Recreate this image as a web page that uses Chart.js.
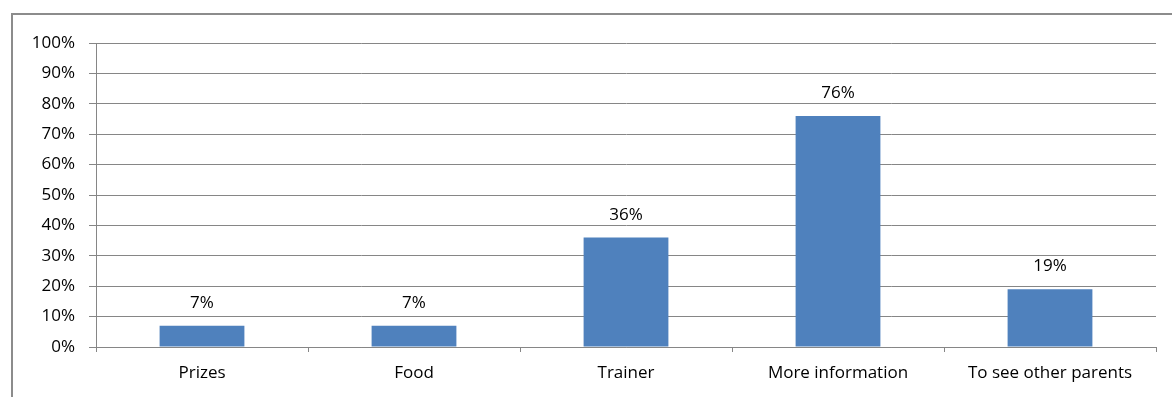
<!DOCTYPE html>
<html>
<head>
<meta charset="utf-8">
<script src="https://cdn.jsdelivr.net/npm/chart.js@4"></script>
<style>
  html, body { margin:0; padding:0; background:#fff; }
  #wrap { position:relative; width:1172px; height:397px; }
  #frame { position:absolute; left:11px; top:13px; width:1170px; height:400px;
           border-left:2px solid #8c8c8c; border-top:2px solid #8c8c8c; box-sizing:border-box; }
  canvas { position:absolute; left:0; top:0; }
</style>
</head>
<body>
<div id="wrap">
  <div id="frame"></div>
  <canvas id="myChart" width="1172" height="397"></canvas>
</div>
<script>
const categories = ['Prizes', 'Food', 'Trainer', 'More information', 'To see other parents']
const values = [7, 7, 36, 76, 19]
const yTicks = [0, 10, 20, 30, 40, 50, 60, 70, 80, 90, 100]
const fontFamily = '"Open Sans", Lato, sans-serif'

// value labels above bars
const barLabels = {
    id: 'barLabels',
    afterDatasetsDraw(chart) {
        const ctx = chart.ctx
        const meta = chart.getDatasetMeta(0)
        ctx.save()
        ctx.font = '17px ' + fontFamily
        ctx.fillStyle = '#000'
        ctx.textAlign = 'center'
        ctx.textBaseline = 'alphabetic'
        meta.data.forEach((bar, i) => {
            ctx.fillText(values[i] + '%', bar.x, bar.y - 18)
        })
        ctx.restore()
    }
}

var ctx = document.getElementById('myChart').getContext('2d')
var myChart = new Chart(ctx, {
    type: 'bar',
    data: {
        labels: categories,
        datasets: [{
            data: values,
            backgroundColor: '#4F81BD',
            borderWidth: 0,
            barPercentage: 0.4,
            categoryPercentage: 1
        }]
    },
    options: {
        responsive: false,
        animation: false,
        layout: { padding: { top: 43, right: 16, left: 0, bottom: 0 } },
        plugins: { legend: { display: false }, tooltip: { enabled: false } },
        scales: {
            y: {
                min: 0,
                max: 100,
                afterBuildTicks: (axis) => { axis.ticks = yTicks.map(v => ({ value: v })) },
                afterFit: (axis) => { axis.width = 96 },
                grid: { color: '#868686', lineWidth: 1, tickLength: 7 },
                border: { color: '#868686', width: 1 },
                ticks: {
                    callback: (v) => v + '%',
                    color: '#000',
                    padding: 14,
                    font: { family: fontFamily, size: 17 }
                }
            },
            x: {
                afterFit: (axis) => { axis.height = 50 },
                grid: { drawOnChartArea: false, color: '#868686', tickLength: 5, offset: true },
                border: { color: '#868686', width: 1 },
                ticks: {
                    color: '#000',
                    padding: 11,
                    maxRotation: 0,
                    font: { family: fontFamily, size: 17 }
                }
            }
        }
    },
    plugins: [barLabels]
})
</script>
</body>
</html>
